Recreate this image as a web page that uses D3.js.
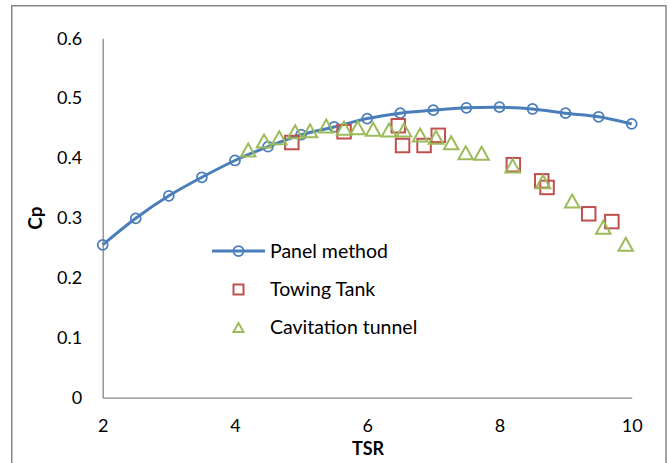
<!DOCTYPE html>
<html>
<head>
<meta charset="utf-8">
<script src="https://cdn.jsdelivr.net/npm/d3@7"></script>
<style>
  html, body { margin: 0; padding: 0; background: #fff; }
  svg { display: block; font-family: Lato, "Open Sans", sans-serif; }
</style>
</head>
<body>
<svg id="chart" width="670" height="463"></svg>
<script>
// ---- Data ----
const panelTSR = [2, 2.5, 3, 3.5, 4, 4.5, 5, 5.5, 6, 6.5, 7, 7.5, 8, 8.5, 9, 9.5, 10];
const panelCp  = [0.255, 0.2995, 0.337, 0.368, 0.396, 0.419, 0.439, 0.452, 0.466, 0.475, 0.480, 0.484, 0.485, 0.482, 0.475, 0.469, 0.457];

const towingTSR = [4.86, 5.65, 6.47, 6.535, 6.86, 7.075, 8.21, 8.64, 8.72, 9.35, 9.70];
const towingCp  = [0.426, 0.444, 0.454, 0.421, 0.421, 0.438, 0.389, 0.362, 0.351, 0.307, 0.294];

const cavTSR = [4.20, 4.44, 4.67, 4.91, 5.135, 5.38, 5.65, 5.856, 6.09, 6.33, 6.556, 6.80, 7.04, 7.27, 7.49, 7.73, 8.20, 8.66, 9.10, 9.57, 9.91];
const cavCp  = [0.4135, 0.4285, 0.434, 0.444, 0.4457, 0.4536, 0.450, 0.4508, 0.448, 0.447, 0.447, 0.4385, 0.4347, 0.4257, 0.409, 0.408, 0.387, 0.3606, 0.3284, 0.2845, 0.256];

const xTicks = [2, 4, 6, 8, 10];
const yTicks = [0, 0.1, 0.2, 0.3, 0.4, 0.5, 0.6];
const seriesNames = ["Panel method", "Towing Tank", "Cavitation tunnel"];
const colors = { panel: "#4A7EBB", towing: "#C0504D", cav: "#9BBB59" };

(function () {
// ---- Layout ----
const svg = d3.select("#chart");
const pLeft = 102.7, pRight = 631.7, pTop = 38.3, pBottom = 397.7;

const x = d3.scaleLinear().domain([2, 10]).range([pLeft, pRight]);
const y = d3.scaleLinear().domain([0, 0.6]).range([pBottom, pTop]);

// outer frame (bottom edge is outside the picture)
svg.append("rect")
  .attr("x", 11.75).attr("y", 5.75)
  .attr("width", 666 - 11.75).attr("height", 480)
  .attr("fill", "none").attr("stroke", "#878787").attr("stroke-width", 1.5);

// axes
const fmtY = d => d === 0 ? "0" : d3.format(".1f")(d);
const yAxis = svg.append("g")
  .attr("transform", `translate(${pLeft},0)`)
  .call(d3.axisLeft(y).tickValues(yTicks).tickFormat(fmtY).tickSize(0).tickPadding(20.5));
const xAxis = svg.append("g")
  .attr("transform", `translate(0,${pBottom})`)
  .call(d3.axisBottom(x).tickValues(xTicks).tickFormat(d3.format("d")).tickSize(0).tickPadding(21.5));

[xAxis, yAxis].forEach(g => {
  g.select(".domain").attr("stroke", "#868686").attr("stroke-width", 1.3);
  g.selectAll("text").attr("font-size", 18).attr("fill", "#000").attr("font-family", "Lato, 'Open Sans', sans-serif");
});

// axis titles
svg.append("text")
  .attr("x", 368).attr("y", 448.5).attr("dy", "0.35em")
  .attr("text-anchor", "middle").attr("font-weight", "bold").attr("font-size", 18)
  .text("TSR");
svg.append("text")
  .attr("transform", "translate(35,218) rotate(-90)")
  .attr("dy", "0.35em")
  .attr("text-anchor", "middle").attr("font-weight", "bold").attr("font-size", 19)
  .text("Cp");

// ---- Panel method ----
const panelData = panelTSR.map((t, i) => [t, panelCp[i]]);
const line = d3.line().x(d => x(d[0])).y(d => y(d[1])).curve(d3.curveCatmullRom.alpha(0.5));
svg.append("path")
  .datum(panelData)
  .attr("d", line)
  .attr("fill", "none").attr("stroke", colors.panel).attr("stroke-width", 3);
svg.append("g").selectAll("circle")
  .data(panelData).join("circle")
  .attr("cx", d => x(d[0])).attr("cy", d => y(d[1])).attr("r", 5)
  .attr("fill", "none").attr("stroke", colors.panel).attr("stroke-width", 1.75);

// ---- Towing Tank ----
const sq = 13.5;
const towingData = towingTSR.map((t, i) => [t, towingCp[i]]);
svg.append("g").selectAll("rect")
  .data(towingData).join("rect")
  .attr("x", d => x(d[0]) - sq / 2).attr("y", d => y(d[1]) - sq / 2)
  .attr("width", sq).attr("height", sq)
  .attr("fill", "none").attr("stroke", colors.towing).attr("stroke-width", 2);

// ---- Cavitation tunnel ----
const triPath = (cx, cy, w, h) =>
  `M${cx},${cy - h / 2}L${cx + w / 2},${cy + h / 2}L${cx - w / 2},${cy + h / 2}Z`;
const cavData = cavTSR.map((t, i) => [t, cavCp[i]]);
svg.append("g").selectAll("path")
  .data(cavData).join("path")
  .attr("d", d => triPath(x(d[0]), y(d[1]), 14.5, 13))
  .attr("fill", "none").attr("stroke", colors.cav).attr("stroke-width", 2)
  .attr("stroke-linejoin", "miter");

// ---- Legend ----
const lg = svg.append("g");
const lx = 238.5, ly = [251, 289.5, 327.5], tx = 270;
lg.append("line").attr("x1", 212).attr("x2", 265).attr("y1", ly[0]).attr("y2", ly[0])
  .attr("stroke", colors.panel).attr("stroke-width", 3);
lg.append("circle").attr("cx", lx).attr("cy", ly[0]).attr("r", 5)
  .attr("fill", "none").attr("stroke", colors.panel).attr("stroke-width", 1.75);
lg.append("rect").attr("x", lx - 5).attr("y", ly[1] - 5).attr("width", 10).attr("height", 10)
  .attr("fill", "none").attr("stroke", colors.towing).attr("stroke-width", 2);
lg.append("path").attr("d", triPath(lx, ly[2], 10, 9))
  .attr("fill", "none").attr("stroke", colors.cav).attr("stroke-width", 2);
lg.selectAll("text.lbl").data(seriesNames).join("text")
  .attr("class", "lbl")
  .attr("x", tx).attr("y", (d, i) => ly[i]).attr("dy", "0.35em")
  .attr("font-size", 19.5).attr("fill", "#000")
  .text(d => d);
})();
</script>
</body>
</html>
